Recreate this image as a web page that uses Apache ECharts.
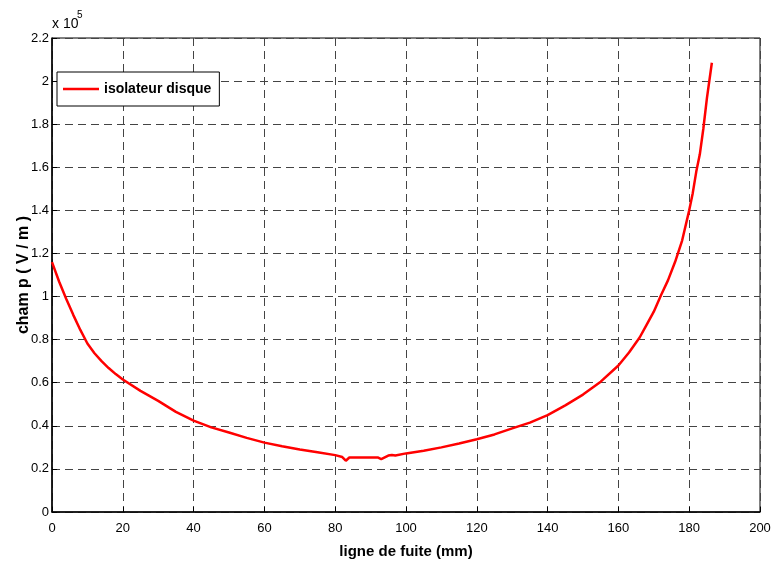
<!DOCTYPE html>
<html>
<head>
<meta charset="utf-8">
<script src="https://cdn.jsdelivr.net/npm/echarts@6/dist/echarts.min.js"></script>
<style>
html,body{margin:0;padding:0;background:#fff;}
#c{width:771px;height:569px;}
</style>
</head>
<body>
<div id="c"></div>
<script>
// Distance along the leakage path (mm)
var xValues = [0,2,4,6,8,10,12,14,16,18,20,25,30,35,40,45,50,55,60,65,70,75,80,82,83,84,88,92,93,95,96,97,100,105,110,115,120,125,130,135,140,145,150,155,160,163,166,168,170,172,174,176,178,180,181,182,183,184,185,186.4];
// Electric field (x 10^5 V/m)
var fieldValues = [1.16,1.07,0.99,0.915,0.845,0.782,0.737,0.700,0.668,0.640,0.615,0.562,0.516,0.465,0.424,0.393,0.369,0.344,0.322,0.305,0.29,0.277,0.264,0.255,0.238,0.253,0.253,0.253,0.245,0.262,0.265,0.262,0.272,0.284,0.300,0.318,0.338,0.360,0.388,0.415,0.450,0.495,0.545,0.605,0.680,0.740,0.810,0.870,0.930,1.005,1.075,1.160,1.260,1.400,1.480,1.580,1.660,1.780,1.920,2.085];
var seriesName = 'isolateur disque';
var xTitle = 'ligne de fuite (mm)';
var yTitle = 'cham p ( V / m )';

var FONT = '"Liberation Sans",Arial,sans-serif';
var data = xValues.map(function(x,i){return [x, fieldValues[i]];});

var chart = echarts.init(document.getElementById('c'), null, {renderer:'canvas'});
chart.setOption({
  animation:false,
  backgroundColor:'#fff',
  grid:{left:52,right:11,top:38,bottom:57,show:true,borderColor:'#000',borderWidth:1,containLabel:false,outerBoundsMode:'none'},
  legend:{
    left:57, top:72, orient:'vertical',
    backgroundColor:'#fff', borderColor:'#000', borderWidth:1,
    padding:[10,8,10,6], itemWidth:36, itemHeight:14,
    textStyle:{fontFamily:FONT,fontSize:14,fontWeight:'bold',color:'#000'},
    data:[{name:seriesName, icon:'path://M0,0 L36,0 L36,2.5 L0,2.5 Z'}]
  },
  graphic:[
    {type:'text',left:52,top:17,style:{text:'x 10',font:'14px '+FONT,fill:'#000'}},
    {type:'text',left:77,top:10,style:{text:'5',font:'10px '+FONT,fill:'#000'}}
  ],
  xAxis:{
    type:'value',min:0,max:200,interval:20,
    name:xTitle,nameLocation:'middle',nameGap:32,nameMoveOverlap:false,
    nameTextStyle:{fontFamily:FONT,fontSize:15,fontWeight:'bold',color:'#000'},
    axisLine:{show:true,lineStyle:{color:'#000',width:1.5}},
    axisTick:{show:true,inside:true,length:5,lineStyle:{color:'#000'}},
    axisLabel:{fontFamily:FONT,fontSize:13,color:'#000',margin:10},
    splitLine:{show:true,lineStyle:{color:'#444',type:[8,5],width:1}}
  },
  yAxis:{
    type:'value',min:0,max:2.2,interval:0.2,
    name:yTitle,nameLocation:'middle',nameGap:20,nameMoveOverlap:false,
    nameTextStyle:{fontFamily:FONT,fontSize:16,fontWeight:'bold',color:'#000'},
    axisLine:{show:true,lineStyle:{color:'#000',width:1.5}},
    axisTick:{show:true,inside:true,length:5,lineStyle:{color:'#000'}},
    axisLabel:{fontFamily:FONT,fontSize:13,color:'#000',margin:3,
      formatter:function(v){return String(Math.round(v*10)/10);}},
    splitLine:{show:true,lineStyle:{color:'#444',type:[8,5],width:1}}
  },
  series:[{
    name:seriesName,type:'line',data:data,symbol:'none',smooth:false,
    lineStyle:{color:'#ff0000',width:2.5},itemStyle:{color:'#ff0000'}
  }]
});
</script>
</body>
</html>
